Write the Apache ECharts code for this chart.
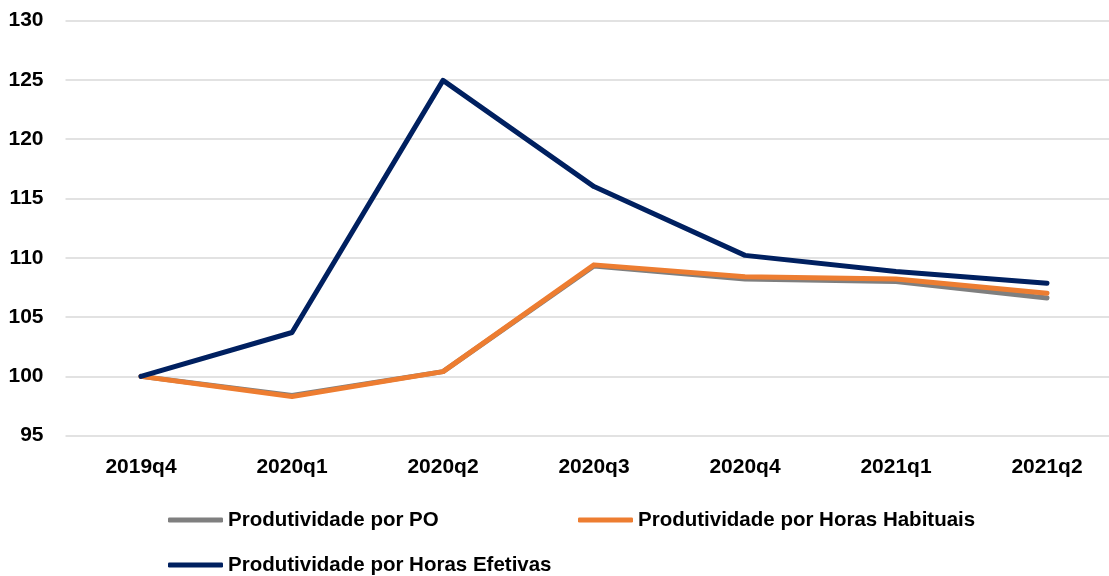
<!DOCTYPE html>
<html>
<head>
<meta charset="utf-8">
<script src="https://cdn.jsdelivr.net/npm/echarts@6/dist/echarts.min.js"></script>
<style>
html,body{margin:0;padding:0;background:#fff;}
#chart{width:1109px;height:576px;}
</style>
</head>
<body>
<div id="chart"></div>
<script>
const categories = ['2019q4','2020q1','2020q2','2020q3','2020q4','2021q1','2021q2'];
const seriesNames = ['Produtividade por PO','Produtividade por Horas Habituais','Produtividade por Horas Efetivas'];
const porPO = [100, 98.4, 100.4, 109.3, 108.2, 108.0, 106.6];
const porHabituais = [100, 98.3, 100.4, 109.4, 108.4, 108.2, 107.0];
const porEfetivas = [100, 103.7, 124.95, 116.0, 110.2, 108.85, 107.85];
const yTicks = {min: 95, max: 130, interval: 5};
const colors = ['#7f7f7f', '#ed7d31', '#002060'];

const font = 'Liberation Sans, Arial, sans-serif';
const chart = echarts.init(document.getElementById('chart'), null, {renderer: 'canvas'});
const legendCommon = {
  icon: 'roundRect', itemWidth: 55, itemHeight: 5, padding: 0, orient: 'horizontal',
  textStyle: {fontFamily: font, fontWeight: 'bold', fontSize: 20.5, color: '#000', lineHeight: 22}
};
chart.setOption({
  animation: false,
  backgroundColor: '#fff',
  color: colors,
  grid: {left: 65.5, top: 20.5, width: 1057, height: 415.2, containLabel: false, outerBoundsMode: 'none'},
  legend: [
    Object.assign({data: [seriesNames[0]], left: 168, top: 509}, legendCommon),
    Object.assign({data: [seriesNames[1]], left: 578, top: 509}, legendCommon),
    Object.assign({data: [seriesNames[2]], left: 168, top: 554}, legendCommon)
  ],
  xAxis: {
    type: 'category', data: categories, boundaryGap: true,
    axisLine: {show: false}, axisTick: {show: false},
    axisLabel: {fontFamily: font, fontWeight: 'bold', fontSize: 21, color: '#000', margin: 21}
  },
  yAxis: {
    type: 'value', min: yTicks.min, max: yTicks.max, interval: yTicks.interval,
    axisLine: {show: false}, axisTick: {show: false},
    axisLabel: {fontFamily: font, fontWeight: 'bold', fontSize: 21, color: '#000', margin: 22},
    splitLine: {lineStyle: {color: '#d9d9d9', width: 1.5}}
  },
  series: [
    {name: seriesNames[0], type: 'line', data: porPO, showSymbol: false, symbol: 'none',
     lineStyle: {width: 5, color: colors[0], cap: 'round', join: 'round'}},
    {name: seriesNames[1], type: 'line', data: porHabituais, showSymbol: false, symbol: 'none',
     lineStyle: {width: 5, color: colors[1], cap: 'round', join: 'round'}},
    {name: seriesNames[2], type: 'line', data: porEfetivas, showSymbol: false, symbol: 'none',
     lineStyle: {width: 5, color: colors[2], cap: 'round', join: 'round'}}
  ]
});
</script>
</body>
</html>
